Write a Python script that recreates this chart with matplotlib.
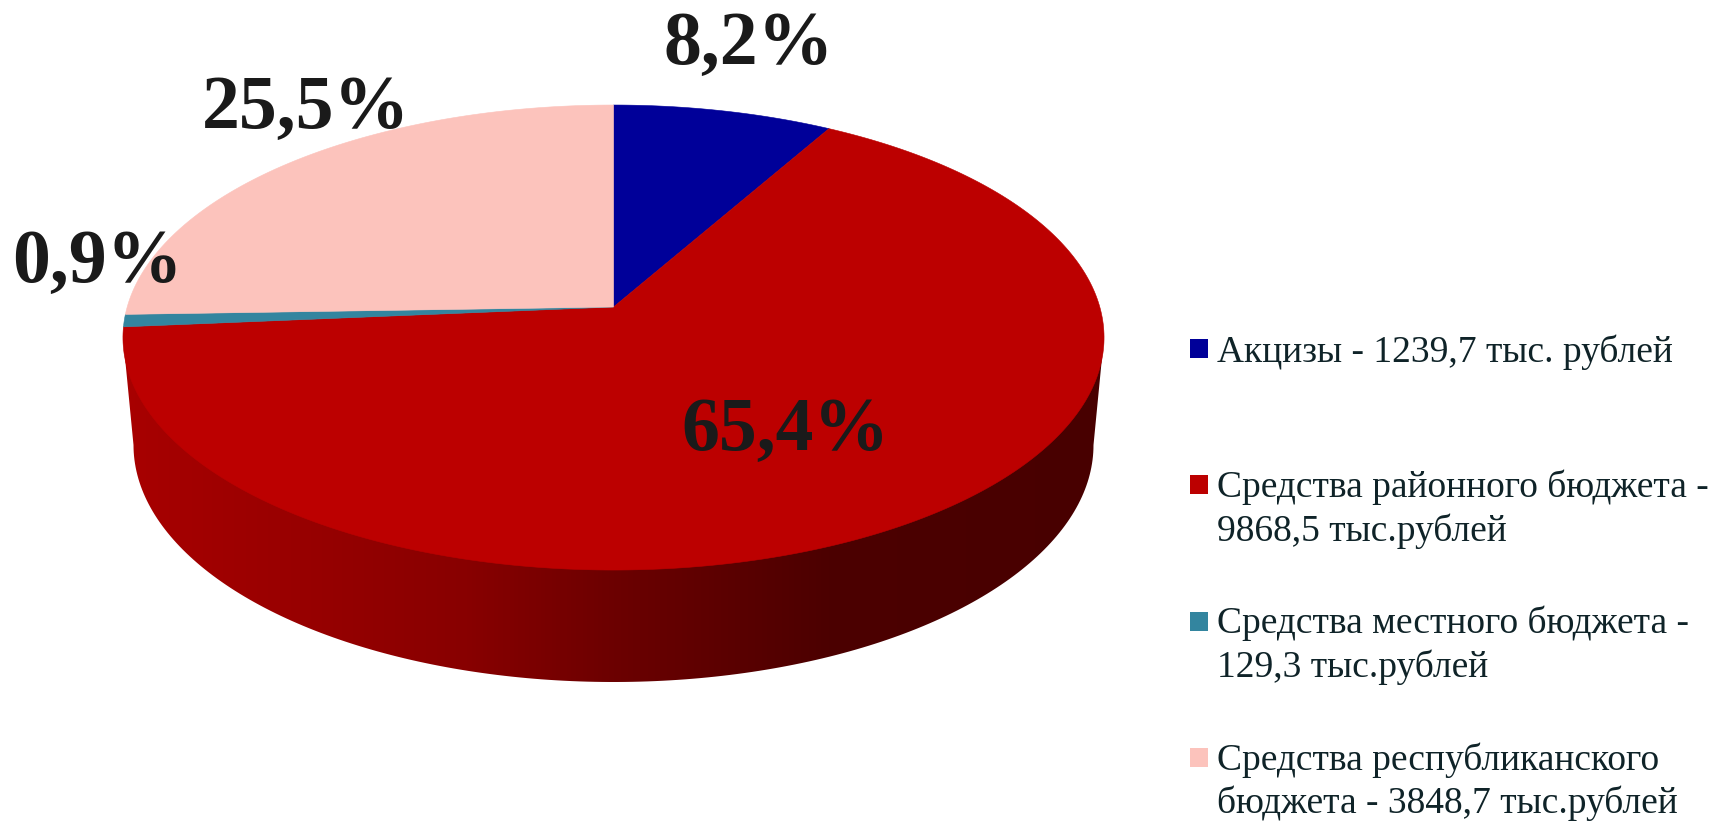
import numpy as np
import matplotlib
matplotlib.use("Agg")
import matplotlib.pyplot as plt
from matplotlib.colors import LinearSegmentedColormap
from matplotlib.patches import Polygon

# Data
nilai = [1239.7, 9868.5, 129.3, 3848.7]
warna = ["#000099", "#BC0000", "#33859F", "#FCC3BC"]
label_persen = ["8,2%", "65,4%", "0,9%", "25,5%"]
label_legend = [
    ["Акцизы - 1239,7 тыс. рублей"],
    ["Средства районного бюджета -", "9868,5 тыс.рублей"],
    ["Средства местного бюджета -", "129,3 тыс.рублей"],
    ["Средства республиканского", "бюджета - 3848,7 тыс.рублей"],
]

plt.rcParams["font.family"] = ["Liberation Serif", "DejaVu Serif"]

# Geometry of the tilted disc, in pixels of the picture
cx, cy = 613.5, 307.0
p = 0.1313
a = 228.5
b = 486.3


def proyeksi(theta):
    # theta is measured clockwise from the top of the disc
    px = np.sin(theta)
    py = np.cos(theta)
    return cx + b * px / (1 + p * py), cy - a * py / (1 + p * py)


fig = plt.figure(figsize=(17.12, 8.22), dpi=100)
ax = fig.add_axes([0, 0, 1, 1])

# Side wall with a horizontal gradient
t = np.linspace(np.pi, 0, 200)
dinding_x = 613.5 + 480 * np.cos(t)
dinding_y = 445 + 237 * np.sin(t)
dinding = np.column_stack([
    np.r_[123, dinding_x, 1104],
    np.r_[337, dinding_y, 337],
])
cmap = LinearSegmentedColormap.from_list(
    "dinding",
    [(0, "#A80000"), (0.18, "#980000"), (0.35, "#880000"), (0.5, "#6C0000"),
     (0.72, "#4C0000"), (1, "#480000")],
)
gambar = ax.imshow(
    np.linspace(0, 1, 512).reshape(1, -1),
    cmap=cmap,
    extent=[123, 1104, 690, 330],
    aspect="auto",
    zorder=1,
)
klip = Polygon(dinding, closed=True, transform=ax.transData, fc="none", ec="none")
ax.add_patch(klip)
gambar.set_clip_path(klip)

# Top face, one polygon per slice
batas = np.r_[0, np.cumsum(nilai)] / np.sum(nilai) * 2 * np.pi
for i in range(len(nilai)):
    sudut = np.linspace(batas[i], batas[i + 1], 300)
    x, y = proyeksi(sudut)
    titik = np.column_stack([np.r_[cx, x], np.r_[cy, y]])
    ax.add_patch(Polygon(titik, closed=True, fc=warna[i], ec=warna[i], lw=0.4, zorder=2))

# Percentage labels
posisi_persen = [(749, 64), (785, 450), (97, 282), (306, 128)]
for teks, (x, y) in zip(label_persen, posisi_persen):
    ax.text(x, y, teks, fontsize=54.5, fontweight="bold", color="#1A1A1A",
            ha="center", va="baseline", zorder=3)

# Legend
kotak_y = [339, 475, 612, 748]
baris_y = [[362], [497, 541], [633, 677], [770, 813]]
for i in range(len(nilai)):
    ax.add_patch(plt.Rectangle((1190, kotak_y[i]), 18, 19, fc=warna[i], ec="none", zorder=3))
    for teks, y in zip(label_legend[i], baris_y[i]):
        ax.text(1217, y, teks, fontsize=27, color="#0F2328",
                ha="left", va="baseline", zorder=3)

ax.set_xlim(0, 1712)
ax.set_ylim(822, 0)
ax.axis("off")

fig.savefig("out.png", dpi=100)
plt.close(fig)
